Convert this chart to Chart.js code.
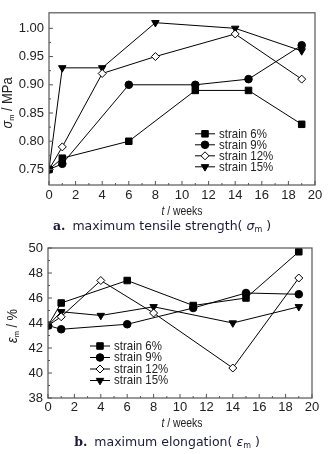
<!DOCTYPE html>
<html>
<head>
<meta charset="utf-8">
<script src="https://cdn.jsdelivr.net/npm/chart.js@4.4.1/dist/chart.umd.min.js"></script>
<style>
  html, body { margin: 0; padding: 0; background: #fff; }
  #wrap { position: relative; width: 333px; height: 454px; overflow: hidden; }
  canvas { position: absolute; left: 0; }
  .lbl { position: absolute; font-family: "Liberation Sans", Arial, sans-serif; font-size: 14px; color: #222; white-space: nowrap; line-height: 1; }
  .ytitle { transform: translate(-50%, -50%) rotate(-90deg) scaleX(0.92); }
  .xtitle { transform: translate(-50%, -50%) scaleX(0.8); font-size: 13px; }
  .cap { position: absolute; transform: translate(-50%, -50%); font-family: "DejaVu Sans", "Noto Sans", sans-serif; font-size: 12.5px; color: #1a1a3a; white-space: nowrap; }
  .cap b { font-family: "DejaVu Serif", serif; margin-right: 7px; }
  sub { font-size: 8px; vertical-align: -2px; }
</style>
</head>
<body>
<div id="wrap">
  <canvas id="chart-a" width="333" height="205" style="top:0"></canvas>
  <canvas id="chart-b" width="333" height="185" style="top:230px"></canvas>

  <div class="lbl ytitle" style="left:8px; top:103px;"><i>σ</i><sub>m</sub> / MPa</div>
  <div class="lbl xtitle" style="left:182px; top:210px;"><i>t</i> / weeks</div>
  <div class="cap" style="left:162px; top:226px;"><b>a.</b>maximum tensile strength( <i>σ</i><sub>m</sub> )</div>

  <div class="lbl ytitle" style="left:13px; top:326px;"><i>ε</i><sub>m</sub> / %</div>
  <div class="lbl xtitle" style="left:182px; top:422px;"><i>t</i> / weeks</div>
  <div class="cap" style="left:167px; top:442px;"><b>b.</b>maximum elongation( <i>ε</i><sub>m</sub> )</div>
</div>

<script>
  // sampling weeks
  const weeksA = [0, 1, 6, 11, 15, 19];   // strain 6% and 9%
  const weeksB = [0, 1, 4, 8, 14, 19];    // strain 12% and 15%
  const seriesNames = ['strain 6%', 'strain 9%', 'strain 12%', 'strain 15%'];

  // maximum tensile strength, MPa
  const strengthS6 = [0.75, 0.77, 0.80, 0.89, 0.89, 0.83];
  const strengthS9 = [0.75, 0.76, 0.90, 0.90, 0.91, 0.97];
  const strengthS12 = [0.75, 0.79, 0.92, 0.95, 0.99, 0.91];
  const strengthS15 = [0.75, 0.93, 0.93, 1.01, 1.00, 0.96];

  // maximum elongation, %
  const elongS6 = [43.8, 45.6, 47.4, 45.4, 46.0, 49.7];
  const elongS9 = [43.8, 43.5, 43.9, 45.2, 46.4, 46.3];
  const elongS12 = [43.8, 44.5, 47.4, 44.8, 40.4, 47.6];
  const elongS15 = [43.8, 44.9, 44.6, 45.3, 44.0, 45.3];

  // tick labels
  const weekTicks = [0, 2, 4, 6, 8, 10, 12, 14, 16, 18, 20];
  const strengthTicks = [0.75, 0.80, 0.85, 0.90, 0.95, 1.00];
  const elongTicks = [38, 40, 42, 44, 46, 48, 50];

  const FONT = '"Liberation Sans", Arial, sans-serif';

  const styles = [
    { pointStyle: 'rect', pointRadius: 4.6, pointBackgroundColor: '#000', pointRotation: 0 },
    { pointStyle: 'circle', pointRadius: 3.8, pointBackgroundColor: '#000', pointRotation: 0 },
    { pointStyle: 'rectRot', pointRadius: 4, pointBackgroundColor: '#fff', pointRotation: 0 },
    { pointStyle: 'triangle', pointRadius: 4.3, pointBackgroundColor: '#000', pointRotation: 180 }
  ];

  function pairs(xs, ys) {
    return xs.map((x, i) => ({ x: x, y: ys[i] }));
  }

  function makeDatasets(lists) {
    return lists.map((pts, i) => Object.assign({
      label: seriesNames[i],
      data: pts,
      borderColor: '#000',
      borderWidth: 1,
      pointBorderColor: '#000',
      pointBorderWidth: 1,
      fill: false,
      tension: 0
    }, styles[i]));
  }

  // frame + inward ticks + legend
  function framePlugin(legendX, legendY, rowGap) {
    return {
      id: 'frame',
      afterDraw(chart) {
        const ctx = chart.ctx;
        const a = chart.chartArea;
        const xs = chart.scales.x, ys = chart.scales.y;
        ctx.save();
        ctx.strokeStyle = '#555';
        ctx.lineWidth = 1.2;
        ctx.strokeRect(a.left, a.top, a.right - a.left, a.bottom - a.top);

        ctx.lineWidth = 1;
        ctx.beginPath();
        const xt = xs.ticks.map(t => t.value);
        xt.forEach((v, i) => {
          const px = xs.getPixelForValue(v);
          ctx.moveTo(px, a.bottom); ctx.lineTo(px, a.bottom - 4);
          if (i < xt.length - 1) {
            const pm = xs.getPixelForValue((v + xt[i + 1]) / 2);
            ctx.moveTo(pm, a.bottom); ctx.lineTo(pm, a.bottom - 2);
          }
        });
        const yt = ys.ticks.map(t => t.value);
        yt.forEach((v, i) => {
          const py = ys.getPixelForValue(v);
          ctx.moveTo(a.left, py); ctx.lineTo(a.left + 4, py);
          if (i < yt.length - 1) {
            const pm = ys.getPixelForValue((v + yt[i + 1]) / 2);
            ctx.moveTo(a.left, pm); ctx.lineTo(a.left + 2, pm);
          }
        });
        ctx.stroke();

        // legend
        chart.data.datasets.forEach((ds, i) => {
          const y = a.top + legendY + i * rowGap;
          const x0 = a.left + legendX;
          ctx.strokeStyle = '#000';
          ctx.lineWidth = 1;
          ctx.beginPath();
          ctx.moveTo(x0, y); ctx.lineTo(x0 + 20, y);
          ctx.stroke();
          ctx.fillStyle = ds.pointBackgroundColor;
          Chart.helpers.drawPoint(ctx, {
            pointStyle: ds.pointStyle, radius: ds.pointRadius,
            rotation: ds.pointRotation, borderWidth: 1
          }, x0 + 10, y);
          ctx.save();
          ctx.translate(x0 + 24, y);
          ctx.scale(0.85, 1);
          ctx.font = '13.5px ' + FONT;
          ctx.textBaseline = 'middle';
          ctx.fillStyle = '#222';
          ctx.fillText(ds.label, 0, 0);
          ctx.restore();
        });
        ctx.restore();
      }
    };
  }

  function makeOptions(yMin, yMax, yTicks, yDigits, yWidth, xHeight, pad, xPad) {
    return {
      responsive: false,
      animation: false,
      layout: { padding: pad },
      plugins: { legend: { display: false }, tooltip: { enabled: false } },
      scales: {
        x: {
          type: 'linear', min: 0, max: 20,
          afterBuildTicks: s => { s.ticks = weekTicks.map(v => ({ value: v })); },
          afterFit: s => { s.height = xHeight; },
          grid: { display: false, drawTicks: false },
          border: { display: false },
          ticks: { font: { family: FONT, size: 13 }, color: '#222', padding: xPad, maxRotation: 0 }
        },
        y: {
          type: 'linear', min: yMin, max: yMax,
          afterBuildTicks: s => { s.ticks = yTicks.map(v => ({ value: v })); },
          afterFit: s => { s.width = yWidth; },
          grid: { display: false, drawTicks: false },
          border: { display: false },
          ticks: {
            font: { family: FONT, size: 13 }, color: '#222', padding: 5,
            callback: v => Number(v).toFixed(yDigits)
          }
        }
      }
    };
  }

  document.addEventListener('DOMContentLoaded', function() {
    // a. maximum tensile strength
    var ctx1 = document.getElementById('chart-a').getContext('2d');
    new Chart(ctx1, {
      type: 'line',
      data: {
        datasets: makeDatasets([
          pairs(weeksA, strengthS6), pairs(weeksA, strengthS9),
          pairs(weeksB, strengthS12), pairs(weeksB, strengthS15)
        ])
      },
      options: makeOptions(0.7225, 1.0275, strengthTicks, 2, 49, 20,
        { top: 11, right: 18, left: 0, bottom: 0 }, 3),
      plugins: [framePlugin(146, 121, 11)]
    });

    // b. maximum elongation
    var ctx2 = document.getElementById('chart-b').getContext('2d');
    new Chart(ctx2, {
      type: 'line',
      data: {
        datasets: makeDatasets([
          pairs(weeksA, elongS6), pairs(weeksA, elongS9),
          pairs(weeksB, elongS12), pairs(weeksB, elongS15)
        ])
      },
      options: makeOptions(38, 50, elongTicks, 0, 48, 17,
        { top: 18, right: 21, left: 0, bottom: 0 }, 2),
      plugins: [framePlugin(42, 98, 11.5)]
    });
  });
</script>
</body>
</html>
